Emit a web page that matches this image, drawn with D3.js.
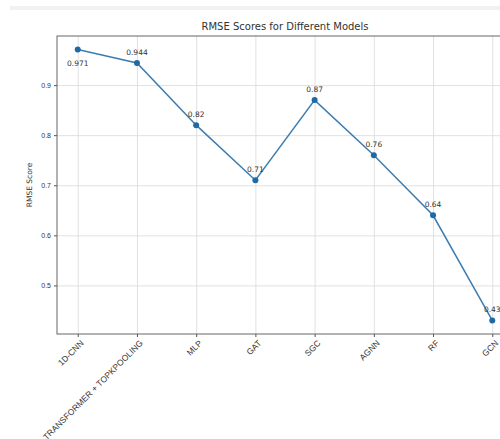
<!DOCTYPE html>
<html>
<head>
<meta charset="utf-8">
<script src="https://cdn.jsdelivr.net/npm/d3@7"></script>
<style>
body { margin: 0; background: #fff; }
svg { font-family: "DejaVu Sans", sans-serif; }
.grid line { stroke: #d9d9d9; stroke-width: 0.8; }
.grid path { display: none; }
.axis path, .axis line { stroke: #555; }
.axis text { fill: #333; font-size: 7px; }
.x-axis text { font-size: 8.5px; }
</style>
</head>
<body>
<div id="chart"></div>
<script>
var models = ["1D-CNN", "TRANSFORMER + TOPKPOOLING", "MLP", "GAT", "SGC", "AGNN", "RF", "GCN"];
var rmse = [0.971, 0.944, 0.82, 0.71, 0.87, 0.76, 0.64, 0.43];
var labels = ["0.971", "0.944", "0.82", "0.71", "0.87", "0.76", "0.64", "0.43"];
var yTicks = [0.5, 0.6, 0.7, 0.8, 0.9];

var width = 500, height = 439;
var plot = {left: 57, right: 513, top: 36, bottom: 334};

var svg = d3.select("#chart")
    .append("svg")
    .attr("width", width)
    .attr("height", height);

// faint band across the top
svg.append("rect")
    .attr("x", 10).attr("y", 6)
    .attr("width", 490).attr("height", 4)
    .attr("fill", "#f1f1f1");

var xScale = d3.scaleLinear()
    .domain([-0.35, models.length - 1 + 0.35])
    .range([plot.left, plot.right]);

var yScale = d3.scaleLinear()
    .domain([0.403, 0.998])
    .range([plot.bottom, plot.top]);

var idx = d3.range(models.length);

// grid lines
svg.append("g")
    .attr("class", "grid")
    .attr("transform", "translate(0," + plot.bottom + ")")
    .call(d3.axisBottom(xScale).tickValues(idx).tickSize(-(plot.bottom - plot.top)).tickFormat(""));

svg.append("g")
    .attr("class", "grid")
    .attr("transform", "translate(" + plot.left + ",0)")
    .call(d3.axisLeft(yScale).tickValues(yTicks).tickSize(-(plot.right - plot.left)).tickFormat(""));

// spines
svg.append("rect")
    .attr("x", plot.left).attr("y", plot.top)
    .attr("width", plot.right - plot.left)
    .attr("height", plot.bottom - plot.top)
    .attr("fill", "none")
    .attr("stroke", "#666")
    .attr("stroke-width", 1);

// x axis
var xAxis = svg.append("g")
    .attr("class", "axis x-axis")
    .attr("transform", "translate(0," + plot.bottom + ")")
    .call(d3.axisBottom(xScale).tickValues(idx).tickSize(3).tickFormat(function(d) { return models[d]; }));
xAxis.select(".domain").remove();
xAxis.selectAll("text")
    .attr("transform", "rotate(-45)")
    .attr("text-anchor", "end")
    .attr("dx", "-0.3em")
    .attr("dy", "0.6em");

// y axis
var yAxis = svg.append("g")
    .attr("class", "axis")
    .attr("transform", "translate(" + plot.left + ",0)")
    .call(d3.axisLeft(yScale).tickValues(yTicks).tickSize(3).tickFormat(d3.format(".1f")));
yAxis.select(".domain").remove();

// title
svg.append("text")
    .attr("x", (plot.left + plot.right) / 2)
    .attr("y", 30)
    .attr("text-anchor", "middle")
    .attr("font-size", "10px")
    .attr("fill", "#333")
    .text("RMSE Scores for Different Models");

// y label
svg.append("text")
    .attr("transform", "rotate(-90)")
    .attr("x", -(plot.top + plot.bottom) / 2)
    .attr("y", 32)
    .attr("text-anchor", "middle")
    .attr("font-size", "7.5px")
    .attr("fill", "#333")
    .text("RMSE Score");

// line
var line = d3.line()
    .x(function(d, i) { return xScale(i); })
    .y(function(d) { return yScale(d); });

svg.append("path")
    .datum(rmse)
    .attr("fill", "none")
    .attr("stroke", "#3b7db3")
    .attr("stroke-width", 1.5)
    .attr("d", line);

svg.selectAll(".pt")
    .data(rmse)
    .enter().append("circle")
    .attr("class", "pt")
    .attr("cx", function(d, i) { return xScale(i); })
    .attr("cy", function(d) { return yScale(d); })
    .attr("r", 3)
    .attr("fill", "#1f6aa5");

svg.selectAll(".val")
    .data(rmse)
    .enter().append("text")
    .attr("class", "val")
    .attr("x", function(d, i) { return xScale(i); })
    .attr("y", function(d, i) { return yScale(d) + (i === 0 ? 16 : -8); })
    .attr("text-anchor", "middle")
    .attr("font-size", "7.5px")
    .attr("fill", "#333")
    .text(function(d, i) { return labels[i]; });
</script>
</body>
</html>
